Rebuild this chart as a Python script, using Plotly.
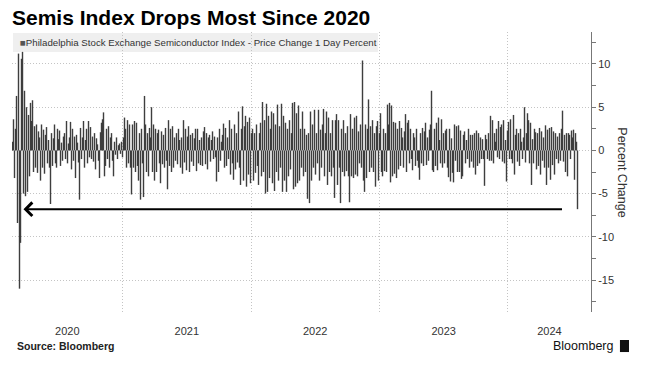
import pandas as pd
import plotly.graph_objects as go

# Daily % change of the Philadelphia Semiconductor Index (~2 trading days per value)
values = [
    1.0, 3.6, -3.2, 2.5, 6.3, -8.4, 11.2, -16.0, -10.7, 10.6,
    11.4, -5.0, 6.9, -5.3, 5.0, -4.8, 4.1, -3.0, 5.5, 3.4,
    5.8, -2.5, 2.8, -2.0, 3.0, -2.6, 2.2, 1.5, -3.5, 3.0,
    -2.0, 2.4, -2.7, 1.8, 2.7, -1.5, 1.2, -2.0, -6.2, 2.0,
    -1.8, 1.4, 3.0, -1.5, -2.0, 2.5, 1.3, 2.3, -1.8, 0.9,
    -1.2, 1.6, 2.0, -1.0, 3.4, -1.5, 0.8, 1.5, 3.3, -2.2,
    2.5, -1.2, 1.6, -3.2, 1.8, 0.9, -1.4, -5.7, 2.6, -1.0,
    1.5, 3.4, -2.0, 1.2, 2.5, -1.5, 3.4, -0.8, 2.7, -1.0,
    1.6, -1.3, 2.0, -2.2, 1.4, 0.7, -1.2, -3.2, 2.1, 3.2,
    3.6, 4.4, -3.0, -1.8, 2.5, -1.0, 2.8, -2.0, 1.5, 2.0,
    -1.2, -3.0, 1.0, -0.5, 1.5, -1.0, 0.6, 0.8, -0.4, 1.0,
    -0.8, 1.5, 3.8, 2.5, -2.0, 3.5, -1.5, 3.0, -2.0, -5.1,
    3.0, -2.0, 3.4, -2.5, 3.2, -1.8, -3.5, 2.0, -5.7, 2.5,
    -1.5, -5.4, 6.3, 3.0, -2.5, 2.0, -3.0, 2.6, 1.5, 5.0,
    -2.5, 3.0, -3.5, 2.5, -2.5, 2.0, 2.4, -1.5, -3.8, 2.2,
    -1.6, 1.8, -2.0, 2.6, -1.2, -4.5, 3.5, -1.8, 2.5, -2.5,
    2.8, -2.0, 1.5, -1.2, 2.0, -1.6, 2.5, 1.2, -2.0, 1.5,
    -2.7, 3.5, -1.4, 2.5, -2.3, 1.6, 2.8, -2.5, 1.8, -1.3,
    2.0, -1.8, 1.4, 2.5, -2.4, 2.5, -1.5, 1.2, -1.7, 1.5,
    -1.8, 2.2, 2.7, -1.6, 2.0, -2.2, 1.5, 1.8, -1.3, 1.2,
    2.2, -1.0, 1.6, -0.8, -3.6, 1.5, -2.5, 2.5, -1.2, 1.0,
    1.8, 3.1, -2.0, 2.6, -1.8, 1.5, -1.0, 3.5, -2.8, 2.5,
    -1.5, -3.4, 3.0, -2.2, 2.0, -1.4, 4.5, -2.0, -4.0, 2.5,
    5.1, -3.5, 2.8, 4.0, -4.2, 3.3, -2.8, 3.8, -3.8, 2.0,
    2.5, -3.5, 2.0, -2.6, 3.0, -1.8, -4.0, 2.0, 3.2, -3.0,
    5.6, -2.5, 3.5, -5.0, 5.4, -4.8, 4.0, -3.2, 2.5, 4.5,
    -3.8, 4.3, -4.7, 3.0, -2.5, 5.3, -3.5, 2.8, -2.0, 5.4,
    -4.8, 4.0, -3.5, 3.2, -4.8, 2.5, -3.0, 3.5, -2.2, 2.0,
    5.5, -4.5, 5.6, -4.2, 4.3, -3.8, 5.2, -3.5, 2.5, -2.0,
    4.5, -3.0, 2.5, -2.5, 1.8, -5.6, 2.0, -6.1, 4.5, -3.5,
    3.0, -2.0, 4.7, -2.8, 2.0, -1.5, 4.7, -3.5, 2.4, -2.0,
    3.0, 4.8, -3.0, 2.0, 4.5, -4.0, 3.8, -2.5, 2.0, -3.0,
    3.5, -2.0, -5.5, 3.5, 4.2, -4.0, 3.5, -2.0, -6.1, 2.5,
    -2.5, 3.5, -3.0, 2.0, -2.4, 2.8, -3.0, -6.0, 4.2, -3.0,
    2.5, -3.2, 3.8, -2.8, 4.0, -3.0, 2.2, -1.5, 3.0, -2.0,
    10.4, -3.5, -4.8, 3.0, -3.2, 2.5, 5.9, -2.5, 2.8, -2.0,
    3.5, -2.5, 2.0, -4.2, 2.8, 3.4, -3.5, 2.0, 4.3, -2.5,
    -3.0, 2.5, -2.4, 2.0, -2.5, 5.3, 3.0, 5.5, -3.7, 5.2,
    -3.0, 3.3, -2.7, 3.2, -3.2, 2.5, -2.2, 3.4, -1.8, 2.6,
    1.5, -2.0, 2.2, 4.2, -2.5, 3.2, 3.5, -1.5, 2.5, -1.0,
    -2.3, 2.0, 1.5, -1.8, 2.5, -1.2, -2.0, -3.4, 2.0, -1.5,
    2.6, -1.8, 2.2, 3.2, -1.7, 1.5, -1.2, 2.4, 3.0, 6.9,
    -2.3, -2.5, 2.5, -1.8, 3.2, -2.3, 3.8, 1.2, -1.5, 3.6,
    -2.0, 2.0, -1.5, 2.3, 2.5, -2.0, -3.1, 2.5, -3.6, 1.4,
    -2.6, -3.7, 3.0, -1.2, 2.8, -2.5, 2.9, -2.5, 2.3, -3.3,
    -3.0, 1.8, 2.2, -1.5, 1.2, -1.0, 2.5, -2.0, 1.8, -1.3,
    1.8, -2.0, 2.0, -2.8, 2.3, -1.8, 2.0, -1.5, 1.5, -1.0,
    1.3, -1.0, -4.1, 1.8, 1.3, -1.0, 2.0, -1.2, 4.0, -1.2,
    3.5, -1.5, 2.0, 1.0, 2.5, -0.8, 3.4, -1.0, 2.7, 3.0,
    -1.3, 3.5, -1.5, 1.2, -3.6, 2.3, 3.3, -1.0, 3.6, -1.0,
    -1.5, 4.1, -2.8, 1.8, 2.5, -1.3, 2.0, -1.8, 2.5, 1.0,
    -1.0, 1.5, 5.0, -1.4, 2.0, 4.3, 3.5, -1.5, 3.2, -4.0,
    1.3, -1.5, 2.5, 2.1, -2.2, 2.0, -1.8, 2.6, -2.8, 2.2,
    -1.2, 1.5, -2.0, 2.9, -4.0, 2.4, -2.0, 2.6, -3.4, 2.7,
    -1.7, 2.2, -2.8, 2.0, -1.0, 1.6, -1.5, 2.0, -1.2, 2.5,
    4.6, -1.3, 1.8, -2.5, 2.0, -3.0, 2.0, 1.8, -1.0, 2.3,
    1.5, 2.4, -3.4, 2.0, 1.0, -6.8,
]
dates = pd.date_range("2020-02-23", "2024-07-17", periods=len(values))

years = [2020, 2021, 2022, 2023, 2024]
year_labels = [str(y) for y in years]
y_ticks = [-15, -10, -5, 0, 5, 10]
y_ticktext = [str(v) for v in y_ticks]

title_text = "Semis Index Drops Most Since 2020"
series_name = "Philadelphia Stock Exchange Semiconductor Index - Price Change 1 Day Percent"

PLOT_W = 579  # plot-area width in px (657 - 12 - 66)
step = dates[1] - dates[0]
x_start = dates[0] - step / 2
x_end = x_start + step * PLOT_W  # one pixel per bar slot
bar_width_ms = (step * 1.4).total_seconds() * 1000

year_mid = []
for y in years:
    a = max(pd.Timestamp(f"{y}-01-01"), x_start)
    b = min(pd.Timestamp(f"{y + 1}-01-01"), x_end)
    year_mid.append(a + (b - a) / 2)
year_starts = [pd.Timestamp(f"{y}-01-01") for y in years[1:]]

fig = go.Figure(go.Bar(
    x=dates, y=values, name=series_name, width=bar_width_ms,
    marker=dict(color="rgba(60,60,60,0.99)", line=dict(width=0)),
    showlegend=False,
))

fig.update_layout(
    width=657, height=370,
    margin=dict(l=12, r=66, t=32, b=58),
    plot_bgcolor="white", paper_bgcolor="white",
    bargap=0.1,
    font=dict(family="Liberation Sans", color="#333333"),
    title=dict(text=title_text, x=12 / 657, xref="container", xanchor="left",
               y=1 - 18 / 370, yref="container", yanchor="middle",
               font=dict(family="Liberation Sans", size=21, color="#000000", weight="bold")),
)

GRID = dict(gridcolor="#c4c4c4", griddash="1px,2px", gridwidth=1)

fig.update_xaxes(
    type="date", range=[x_start, x_end],
    tickmode="array", tickvals=year_mid, ticktext=year_labels,
    showgrid=False, zeroline=False, showline=False,
    ticks="outside", ticklen=9, tickcolor="rgba(0,0,0,0)",
    tickfont=dict(size=11, color="#333333"),
    minor=dict(tickmode="array", tickvals=year_starts, showgrid=True, ticks="", **GRID),
)

fig.update_yaxes(
    side="right", range=[-18.7, 13.7],
    tickmode="array", tickvals=y_ticks, ticktext=y_ticktext,
    showgrid=True, **GRID,
    zeroline=False, showline=True, linecolor="#777777", linewidth=1,
    ticks="outside", ticklen=4, tickcolor="#777777",
    tickfont=dict(size=11, color="#333333"),
    minor=dict(tickmode="linear", tick0=0, dtick=2.5, ticks="outside", ticklen=4,
               tickcolor="#777777", showgrid=False),
)

# legend strip
fig.add_shape(type="rect", xref="paper", yref="paper",
              x0=0.0017, x1=0.632, y0=0.9286, y1=0.9964,
              fillcolor="#efefef", line_width=0, layer="below")
fig.add_annotation(xref="paper", yref="paper", x=0.011, y=0.9625,
                   xanchor="left", yanchor="middle", showarrow=False,
                   text='<span style="color:#555555">■</span>' + series_name,
                   font=dict(size=9.7, color="#333333"))

# arrow at the latest drop level
fig.add_annotation(x=dates[11], y=values[-1], ax=dates[-15], ay=values[-1],
                   xref="x", yref="y", axref="x", ayref="y", text="",
                   showarrow=True, arrowhead=4, arrowsize=1.3, arrowwidth=2,
                   arrowcolor="#000000")

# axis title on the right, reading top to bottom
fig.add_annotation(xref="paper", yref="paper", x=1.053, y=0.5, text="Percent Change",
                   textangle=90, showarrow=False, xanchor="center", yanchor="middle",
                   font=dict(size=12.5, color="#333333"))

# footer
fig.add_annotation(xref="paper", yref="paper", x=0.005, y=-0.121, text="<b>Source: Bloomberg</b>",
                   showarrow=False, xanchor="left", yanchor="middle",
                   font=dict(size=10.5, color="#222222"))
fig.add_annotation(xref="paper", yref="paper", x=1.0415, y=-0.121, text="Bloomberg",
                   showarrow=False, xanchor="right", yanchor="middle",
                   font=dict(size=12.5, color="#111111"))
fig.add_shape(type="rect", xref="paper", yref="paper",
              x0=1.050, x1=1.0656, y0=-0.143, y1=-0.100,
              fillcolor="#111111", line_width=0)

fig.write_html("out.html", config={"displayModeBar": False},
               post_script="document.body.style.margin='0';")
